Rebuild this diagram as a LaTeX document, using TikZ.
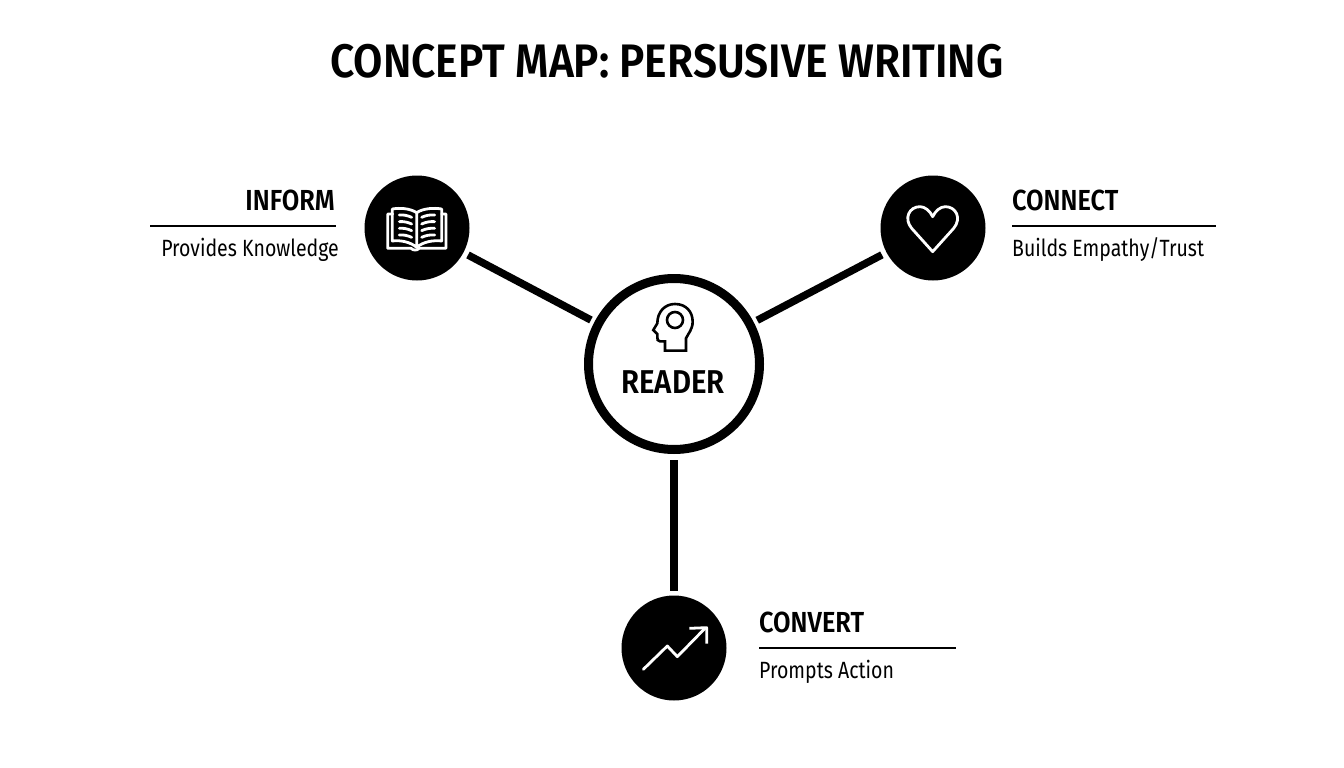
\documentclass[tikz,border=0pt]{standalone}
\usepackage{fontspec}
\setmainfont{Fira Sans}
\newfontfamily\titlefont[FakeStretch=0.905]{Fira Sans SemiBold}
\newfontfamily\readerfont[FakeStretch=0.89]{Fira Sans SemiBold}
\newfontfamily\headfont[FakeStretch=0.875]{Fira Sans SemiBold}
\newfontfamily\subfont[FakeStretch=0.83]{Fira Sans}
\tikzset{
  hub/.style={circle,draw=black,line width=9pt,fill=white,minimum size=171pt,inner sep=0pt},
  spoke/.style={circle,fill=black,minimum size=105pt,inner sep=0pt},
  linkline/.style={line width=7.5pt,black},
  rulerline/.style={line width=2pt,black},
  icon/.style={white,line width=2.8pt,line join=round,line cap=round},
  hubicon/.style={black,line width=2.6pt,line join=miter},
  headtext/.style={inner sep=0pt,font=\headfont\fontsize{29}{32}\selectfont},
  subtext/.style={inner sep=0pt,font=\subfont\fontsize{23.5}{26}\selectfont},
}
\begin{document}
\begin{tikzpicture}[x=1pt,y=-1pt]
\path[use as bounding box,fill=white] (0,0) rectangle (1344,768);
\node[inner sep=0pt,font=\titlefont\fontsize{47}{50}\selectfont] (title) at (667,61) {CONCEPT MAP: PERSUSIVE WRITING};
\node[hub] (reader) at (674,364) {};
\node[spoke] (inform) at (417,228) {};
\node[spoke] (connect) at (933,228) {};
\node[spoke] (convert) at (674,648) {};
\draw[linkline,shorten >=5pt,shorten <=4pt] (reader) -- (inform);
\draw[linkline,shorten >=5pt,shorten <=4pt] (reader) -- (connect);
\draw[linkline,shorten >=4pt,shorten <=6pt] (reader) -- (convert);
\node[inner sep=0pt,font=\readerfont\fontsize{33}{36}\selectfont] (readerlabel) at (673,382) {READER};
% labels
\node[headtext,anchor=base east] (informhead) at (335,210) {INFORM};
\coordinate (informa) at (150,226); \coordinate (informb) at (336,226);
\draw[rulerline] (informa) -- (informb);
\node[subtext,anchor=base east] (informsub) at (339,256) {Provides Knowledge};
\node[headtext,anchor=base west] (connecthead) at (1012,210) {CONNECT};
\coordinate (connecta) at (1012,226); \coordinate (connectb) at (1216,226);
\draw[rulerline] (connecta) -- (connectb);
\node[subtext,anchor=base west] (connectsub) at (1012,256) {Builds Empathy/Trust};
\node[headtext,anchor=base west] (converthead) at (759,632) {CONVERT};
\coordinate (converta) at (759,648); \coordinate (convertb) at (956,648);
\draw[rulerline] (converta) -- (convertb);
\node[subtext,anchor=base west] (convertsub) at (759,678) {Prompts Action};
% book icon
\begin{scope}[shift={(350,160)},x=0.3333pt,y=-0.3333pt]
\draw[icon] (128,162) -- (113,162) -- (113,265) -- (183,265) .. controls (190,272) and (200,272) .. (208,265) -- (288,265) -- (288,162) -- (275,162);
\draw[icon] (200,262) -- (200,158) .. controls (180,145) and (150,143) .. (127,147) -- (127,243) .. controls (150,240) and (180,245) .. (200,262);
\draw[icon] (200,158) .. controls (220,145) and (250,143) .. (275,147) -- (275,243) .. controls (250,240) and (220,245) .. (200,262);
\foreach \y in {165,185,205,225}{
  \draw[icon] (148,\y) .. controls (160,\y-1) and (172,\y+1) .. (185,\y+7);
  \draw[icon] (215,\y+7) .. controls (228,\y+1) and (240,\y-1) .. (254,\y);
}
\end{scope}
% head icon
\begin{scope}[shift={(580,270)},x=0.3333pt,y=-0.3333pt]
\draw[hubicon] (255,242) -- (255,214) -- (240,214) .. controls (233,214) and (231,208) .. (232,200) -- (232,192) -- (220,180) -- (232,160) .. controls (232,125) and (255,102) .. (285,102) .. controls (318,102) and (338,125) .. (338,155) .. controls (338,178) and (325,190) .. (318,205) -- (318,242) -- cycle;
\draw[hubicon] (285,150) circle[radius=8pt];
\end{scope}
% arrow icon
\begin{scope}[shift={(610,585)},x=0.3333pt,y=-0.3333pt]
\draw[icon] (100,253) -- (172,183) -- (202,215) -- (285,130);
\draw[icon,line cap=butt] (238,130) -- (290,128) -- (290,176);
\end{scope}
% heart icon
\begin{scope}[shift={(870,165)},x=0.3333pt,y=-0.3333pt]
\draw[icon] (188,260) -- (125,190) .. controls (100,160) and (118,125) .. (150,125) .. controls (165,125) and (180,138) .. (188,155) .. controls (196,138) and (211,125) .. (226,125) .. controls (258,125) and (276,160) .. (251,190) -- cycle;
\end{scope}
\end{tikzpicture}
\end{document}
